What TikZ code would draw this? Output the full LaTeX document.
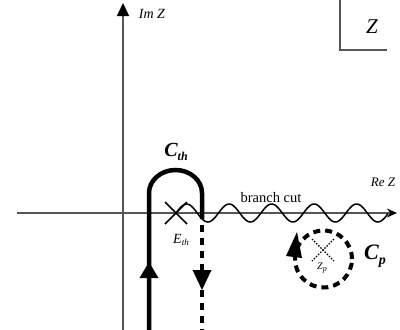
\documentclass[tikz,border=0pt]{standalone}
\usepackage{fontspec}
\setmainfont{Liberation Serif}
\usetikzlibrary{arrows.meta,calc}
\definecolor{axisgray}{RGB}{85,85,85}
\tikzset{
  axis/.style={draw=axisgray, line width=1.6pt},
  contour/.style={draw=black, line width=4.5pt},
  dashcontour/.style={draw=black, line width=4.5pt, dash pattern=on 7pt off 6pt},
  circcontour/.style={draw=black, line width=4pt, dash pattern=on 7pt off 5pt},
  thinblack/.style={draw=black, line width=1.5pt},
  dottedx/.style={draw=black, line width=1.2pt, dash pattern=on 1.5pt off 1.5pt},
  lbl/.style={inner sep=0pt, outer sep=0pt, anchor=center},
}
\begin{document}
\begin{tikzpicture}[x=1pt,y=-1pt]
\useasboundingbox (0,0) rectangle (400,330);
% coordinates
\coordinate (O) at (123,213);
\coordinate (ybot) at (123,330);
\coordinate (ytop) at (123,3);
\coordinate (xleft) at (17,213);
\coordinate (xright) at (397,213);
\coordinate (Eth) at (176,213);
\coordinate (Zp) at (323,250);
\coordinate (Cpc) at (323.5,259);
% axes
\draw[axis, -{Triangle[length=13pt,width=12pt,color=black]}] (ybot) -- (ytop);
\draw[axis, -{Stealth[length=10pt,width=9pt,color=black]}] (xleft) -- (xright);
% Z frame
\draw[axis] (340,0) -- (340,50) -- (387,50);
\node[lbl] (zlab) at (372,27) {\fontsize{21}{24}\selectfont\itshape Z};
\node[lbl] (imz) at (152,14) {\fontsize{14}{16}\selectfont\itshape Im Z};
\node[lbl] (rez) at (383,182) {\fontsize{13}{15}\selectfont\itshape Re Z};
% branch cut wave
\draw[thinblack] plot[domain=176:388, samples=220, smooth] (\x, {213 - 9*sin((\x-176)*8.470588)});
\node[lbl] (bc) at (271,198) {\fontsize{14.5}{16}\selectfont branch cut};
% cross at E_th
\draw[thinblack] ($(Eth)+(-11,-11)$) -- ($(Eth)+(11,11)$);
\draw[thinblack] ($(Eth)+(11,-11)$) -- ($(Eth)+(-11,11)$);
\node[lbl] (ethlab) at (181,240) {\fontsize{14}{15}\selectfont\itshape E\raisebox{-2.5pt}{\fontsize{9}{10}\selectfont th}};
% C_th contour
\draw[contour] (149,331) -- (149,193) arc[start angle=180, end angle=0, x radius=26.5pt, y radius=23pt] -- (202,219);
\draw[dashcontour] (202,225) -- (202,331);
\fill[black] (139.5,278) -- (158.5,278) -- (149,262) -- cycle;
\fill[black] (192.5,270) -- (211.5,270) -- (202,290) -- cycle;
\node[lbl] (cth) at (176,152) {\fontsize{20}{22}\selectfont\bfseries\itshape C\raisebox{-3.5pt}{\fontsize{12}{14}\selectfont th}};
% C_p circle
\draw[circcontour] (Cpc) circle[radius=28.5pt];
\fill[black] (286,256) -- (302,258) -- (297,232) -- cycle;
\draw[dottedx] ($(Zp)+(-11,-11)$) -- ($(Zp)+(11,11)$);
\draw[dottedx] ($(Zp)+(11,-11)$) -- ($(Zp)+(-11,11)$);
\node[lbl] (zplab) at (322,268) {\fontsize{10}{12}\selectfont\itshape Z\raisebox{-1.5pt}{\fontsize{8}{9}\selectfont p}};
\node[lbl] (cp) at (375,256) {\fontsize{22}{24}\selectfont\bfseries\itshape C\raisebox{-4.5pt}{\fontsize{14}{16}\selectfont p}};
\end{tikzpicture}
\end{document}
